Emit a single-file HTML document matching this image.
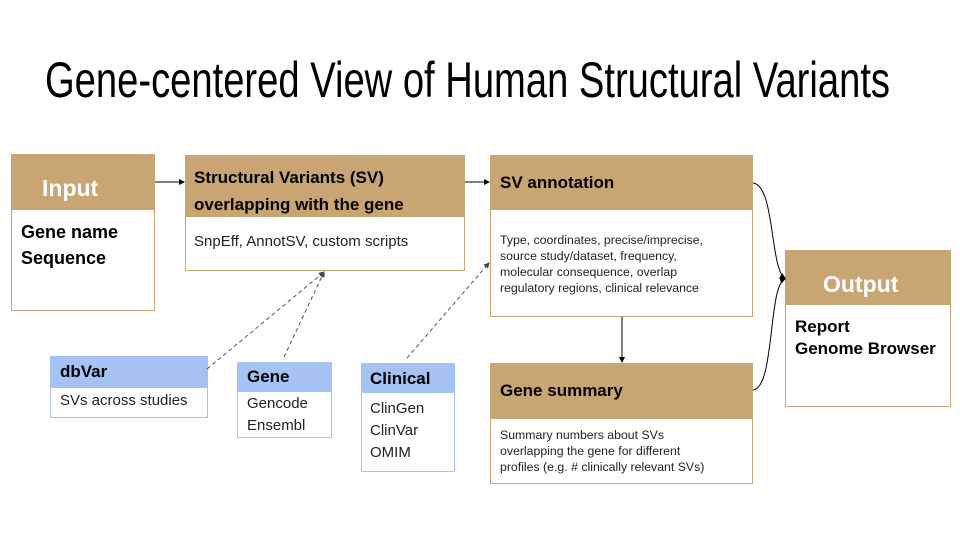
<!DOCTYPE html>
<html><head><meta charset="utf-8"><style>
body{margin:0;width:960px;height:540px;background:#fff;position:relative;overflow:hidden;font-family:"Liberation Sans",sans-serif}
.b{position:absolute;box-sizing:border-box}
.h{background:#c9a574;position:absolute;box-sizing:border-box}
.bd{border:1px solid #c9a574;position:absolute;box-sizing:border-box;background:#fff}
.bh{background:#a4c2f4;position:absolute;box-sizing:border-box}
.bb{border:1px solid #a4c2f4;position:absolute;box-sizing:border-box;background:#fff}
.t{position:absolute;white-space:nowrap}
</style></head><body>
<svg width="960" height="540" style="position:absolute;left:0;top:0">
<text x="45" y="97" font-family="Liberation Sans Narrow, Liberation Sans, sans-serif" font-size="50" font-weight="300" fill="#000" textLength="845" lengthAdjust="spacingAndGlyphs">Gene-centered View of Human Structural Variants</text>
</svg>
<!-- Input -->
<div class="bd" style="left:11px;top:154px;width:144px;height:157px"></div>
<div class="h" style="left:11px;top:154px;width:144px;height:56px"></div>
<div class="t" style="left:42px;top:175px;font-size:23px;font-weight:bold;color:#fff">Input</div>
<div class="t" style="left:21px;top:219px;font-size:18px;font-weight:bold;line-height:26px">Gene name<br>Sequence</div>
<!-- SV -->
<div class="bd" style="left:185px;top:155px;width:280px;height:116px"></div>
<div class="h" style="left:185px;top:155px;width:280px;height:62px"></div>
<div class="t" style="left:194px;top:164px;font-size:17px;font-weight:bold;line-height:27px">Structural Variants (SV)<br>overlapping with the gene</div>
<div class="t" style="left:194px;top:233px;font-size:15px;color:#222">SnpEff, AnnotSV, custom scripts</div>
<!-- SV annotation -->
<div class="bd" style="left:490px;top:155px;width:263px;height:162px"></div>
<div class="h" style="left:490px;top:155px;width:263px;height:55px"></div>
<div class="t" style="left:500px;top:173px;font-size:17px;font-weight:bold">SV annotation</div>
<div class="t" style="left:500px;top:232px;font-size:12.3px;line-height:16px;color:#222">Type, coordinates, precise/imprecise,<br>source study/dataset, frequency,<br>molecular consequence, overlap<br>regulatory regions, clinical relevance</div>
<!-- Gene summary -->
<div class="bd" style="left:490px;top:363px;width:263px;height:121px"></div>
<div class="h" style="left:490px;top:363px;width:263px;height:56px"></div>
<div class="t" style="left:500px;top:381px;font-size:17px;font-weight:bold">Gene summary</div>
<div class="t" style="left:500px;top:427px;font-size:12.3px;line-height:16px;color:#222">Summary numbers about SVs<br>overlapping the gene for different<br>profiles (e.g. # clinically relevant SVs)</div>
<!-- Output -->
<div class="bd" style="left:785px;top:250px;width:166px;height:157px"></div>
<div class="h" style="left:785px;top:250px;width:166px;height:55px"></div>
<div class="t" style="left:823px;top:271px;font-size:23px;font-weight:bold;color:#fff">Output</div>
<div class="t" style="left:795px;top:316px;font-size:17px;font-weight:bold;line-height:22px">Report<br>Genome Browser</div>
<!-- dbVar -->
<div class="bb" style="left:50px;top:356px;width:158px;height:62px"></div>
<div class="bh" style="left:50px;top:356px;width:158px;height:32px"></div>
<div class="t" style="left:60px;top:362px;font-size:17px;font-weight:bold">dbVar</div>
<div class="t" style="left:60px;top:392px;font-size:15px;color:#222">SVs across studies</div>
<!-- Gene -->
<div class="bb" style="left:237px;top:362px;width:95px;height:76px"></div>
<div class="bh" style="left:237px;top:362px;width:95px;height:30px"></div>
<div class="t" style="left:247px;top:367px;font-size:17px;font-weight:bold">Gene</div>
<div class="t" style="left:247px;top:393px;font-size:15px;line-height:22px;color:#222">Gencode<br>Ensembl</div>
<!-- Clinical -->
<div class="bb" style="left:361px;top:363px;width:94px;height:109px"></div>
<div class="bh" style="left:361px;top:363px;width:94px;height:30px"></div>
<div class="t" style="left:370px;top:369px;font-size:17px;font-weight:bold">Clinical</div>
<div class="t" style="left:370px;top:398px;font-size:15px;line-height:22px;color:#222">ClinGen<br>ClinVar<br>OMIM</div>
<svg width="960" height="540" style="position:absolute;left:0;top:0">
<defs><marker id="a" markerWidth="6" markerHeight="6" refX="5" refY="3" orient="auto"><path d="M0,0L6,3L0,6z" fill="#000"/></marker>
<marker id="g" markerWidth="6" markerHeight="6" refX="5" refY="3" orient="auto"><path d="M0,0L6,3L0,6z" fill="#444"/></marker></defs>
<g stroke="#000" stroke-width="1" fill="none">
<line x1="155" y1="182" x2="184" y2="182" marker-end="url(#a)"/>
<line x1="465" y1="182" x2="489" y2="182" marker-end="url(#a)"/>
<line x1="622" y1="317" x2="622" y2="362" marker-end="url(#a)"/>
<path d="M753,183 C775,185 770,270 785,278" marker-end="url(#a)"/>
<path d="M753,390 C775,388 768,285 785,279" marker-end="url(#a)"/>
</g>
<g stroke="#555" stroke-width="1" fill="none" stroke-dasharray="4,3">
<line x1="207" y1="369" x2="324" y2="272" marker-end="url(#g)"/>
<line x1="284" y1="357" x2="324" y2="272" marker-end="url(#g)"/>
<line x1="407" y1="358" x2="489" y2="263" marker-end="url(#g)"/>
</g>
</svg>
</body></html>
